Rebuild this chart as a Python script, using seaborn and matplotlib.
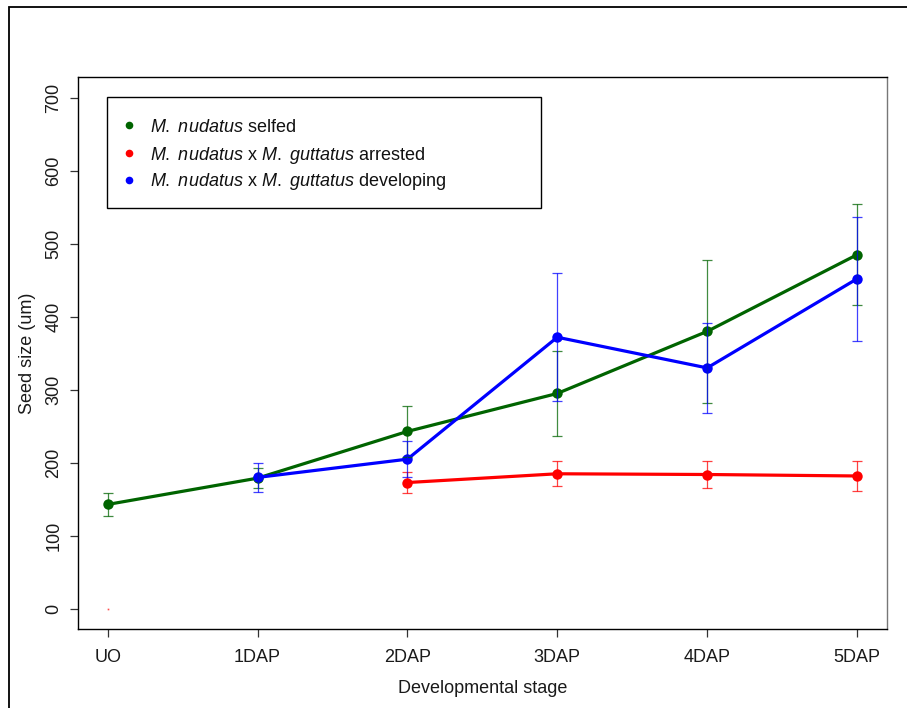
import numpy as np
import pandas as pd
import matplotlib
matplotlib.use("Agg")
import matplotlib.pyplot as plt
from matplotlib.lines import Line2D
from matplotlib.patches import Rectangle
import seaborn as sns

stages = ["UO", "1DAP", "2DAP", "3DAP", "4DAP", "5DAP"]
series_names = ["selfed", "arrested", "developing"]
selfed_mean = [143, 179, 243, 295, 380, 485]
selfed_err = [16, 14, 35, 58, 98, 69]
arrested_mean = [np.nan, np.nan, 173, 185, 184, 182]
arrested_err = [np.nan, np.nan, 15, 17, 19, 20]
arrested_uo_stub = 0
developing_mean = [np.nan, 180, 205, 372, 330, 452]
developing_err = [np.nan, 20, 25, 88, 62, 85]
legend_labels = [
    r"$\mathit{M.\ nudatus}$ selfed",
    r"$\mathit{M.\ nudatus}$ x $\mathit{M.\ guttatus}$ arrested",
    r"$\mathit{M.\ nudatus}$ x $\mathit{M.\ guttatus}$ developing",
]
colors = {"selfed": "#006400", "arrested": "#FF0000", "developing": "#0000FF"}

sns.set_theme(style="white")
plt.rcParams["font.family"] = ["Liberation Sans", "DejaVu Sans"]
plt.rcParams["mathtext.fontset"] = "custom"
plt.rcParams["mathtext.rm"] = "Liberation Sans"
plt.rcParams["mathtext.it"] = "Liberation Sans:italic"

FS = 13
W, H = 907, 708

rows = []
for name, m, e in zip(series_names,
                      [selfed_mean, arrested_mean, developing_mean],
                      [selfed_err, arrested_err, developing_err]):
    for i, st in enumerate(stages):
        rows.append({"series": name, "pos": i, "stage": st, "mean": m[i], "err": e[i]})
df = pd.DataFrame(rows).dropna()

fig = plt.figure(figsize=(W / 100, H / 100), dpi=100)
ax = fig.add_axes([77.7 / W, 1 - 629.3 / H, (887 - 77.7) / W, (629.3 - 77.3) / H])

sns.lineplot(data=df, x="pos", y="mean", hue="series", hue_order=series_names,
             palette=colors, marker="o", markersize=7.5, markeredgewidth=0,
             linewidth=2.3, legend=False, ax=ax, zorder=2)

for name in series_names:
    sub = df[df.series == name]
    ax.errorbar(sub["pos"], sub["mean"], yerr=sub["err"], fmt="none",
                ecolor=colors[name], elinewidth=0.9, capsize=3.3, capthick=0.9,
                alpha=0.75, zorder=3)

ax.plot([0], [arrested_uo_stub], marker="s", markersize=1.2, markeredgewidth=0,
        color=colors["arrested"], alpha=0.7, linestyle="none")

ax.set_xlim(-0.2, 5.2)
ax.set_ylim(-28, 728)
ax.set_xticks(range(len(stages)))
ax.set_xticklabels(stages)
ax.set_yticks(np.arange(0, 701, 100))
ax.set_yticklabels([str(v) for v in range(0, 701, 100)], rotation=90, va="center")
ax.tick_params(axis="both", direction="out", length=6, width=0.9, color="#333333",
               labelsize=FS, labelcolor="#1a1a1a", pad=8, bottom=True, left=True)
ax.tick_params(axis="y", pad=5)
for s in ax.spines.values():
    s.set_color("black")
    s.set_linewidth(1.0)
ax.spines["right"].set_color("#777777")
ax.set_xlabel("Developmental stage", fontsize=FS, color="#1a1a1a", labelpad=10)
ax.set_ylabel("Seed size (um)", fontsize=FS, color="#1a1a1a", labelpad=7)
ax.grid(False)

# legend box drawn in figure pixel space
fig.patches.append(Rectangle((107.3 / W, 1 - 208.3 / H), (540.7 - 107.3) / W,
                             (208.3 - 97.3) / H, transform=fig.transFigure,
                             facecolor="white", edgecolor="black", linewidth=1.0,
                             zorder=5))
row_centers = [125, 153, 180]
for name, lab, yc in zip(series_names, legend_labels, row_centers):
    fig.lines.append(Line2D([129 / W], [1 - yc / H], marker="o", linestyle="none",
                            markersize=5.5, markeredgewidth=0, color=colors[name],
                            transform=fig.transFigure, zorder=6))
    fig.text(150 / W, 1 - (yc + 6.5) / H, lab, fontsize=FS, color="#111111",
             ha="left", va="baseline", zorder=6)

fig.patches.append(Rectangle((9 / W, -0.2), 1.2, 0.2 + 1 - 7 / H,
                             transform=fig.transFigure, fill=False,
                             edgecolor="black", linewidth=1.3))

fig.savefig("out.png", dpi=100)
